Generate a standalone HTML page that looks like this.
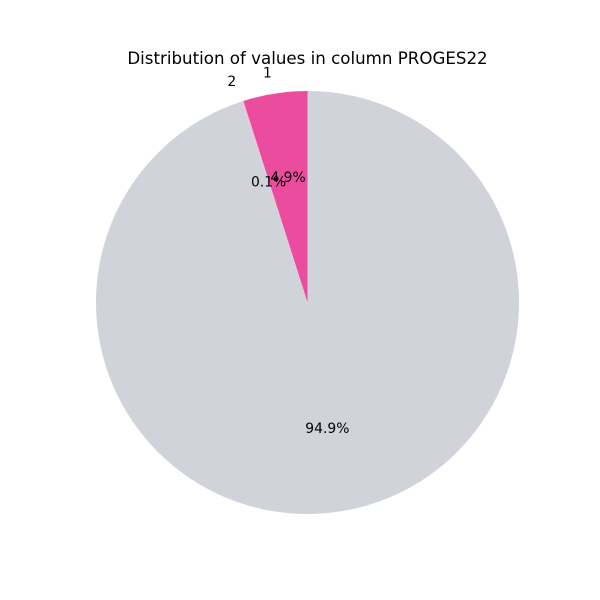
<!DOCTYPE html>
<html><head><meta charset="utf-8"><style>
body{margin:0;background:#fff;}
svg{display:block;font-family:"DejaVu Sans","Liberation Sans",sans-serif;}
</style></head><body>
<svg id="chart" width="600" height="600">
<text x="307.5" y="64" text-anchor="middle" font-size="16.67">Distribution of values in column PROGES22</text>
<g id="slices"></g>
<g id="labels"></g>
</svg>
<script>
const categories = ["1", "2", ""];
const values = [4.9, 0.1, 94.9];
const colors = ["#ec4c9d", "#f4bcd8", "#d1d3da"];
const cx = 307.5, cy = 302.5, r = 211.5;
const ns = "http://www.w3.org/2000/svg";
const g = document.getElementById("slices");
const lg = document.getElementById("labels");
const total = values.reduce((a, b) => a + b, 0);
let start = 90;
function pt(angDeg, rad) {
  const a = angDeg * Math.PI / 180;
  return [cx + rad * Math.cos(a), cy - rad * Math.sin(a)];
}
values.forEach((v, i) => {
  const sweep = v / total * 360;
  const end = start + sweep;
  const [x1, y1] = pt(start, r), [x2, y2] = pt(end, r);
  const large = sweep > 180 ? 1 : 0;
  const p = document.createElementNS(ns, "path");
  p.setAttribute("d", `M${cx},${cy} L${x1},${y1} A${r},${r} 0 ${large} 0 ${x2},${y2} Z`);
  p.setAttribute("fill", colors[i]);
  
  
  g.appendChild(p);
  const mid = start + sweep / 2;
  if (categories[i]) {
    const [lx, ly] = pt(mid, r * 1.1);
    const t = document.createElementNS(ns, "text");
    t.setAttribute("x", lx); t.setAttribute("y", ly + 5);
    t.setAttribute("text-anchor", lx < cx - 1 ? "end" : (lx > cx + 1 ? "start" : "middle"));
    t.setAttribute("font-size", "13.9");
    t.textContent = categories[i];
    
    
    lg.appendChild(t);
  }
  const [px, py] = pt(mid, r * 0.6);
  const t2 = document.createElementNS(ns, "text");
  t2.setAttribute("x", px); t2.setAttribute("y", py + 5);
  t2.setAttribute("text-anchor", "middle");
  t2.setAttribute("font-size", "13.9");
  t2.textContent = v.toFixed(1) + "%";
  
  
  lg.appendChild(t2);
  start = end;
});
</script>
</body></html>
